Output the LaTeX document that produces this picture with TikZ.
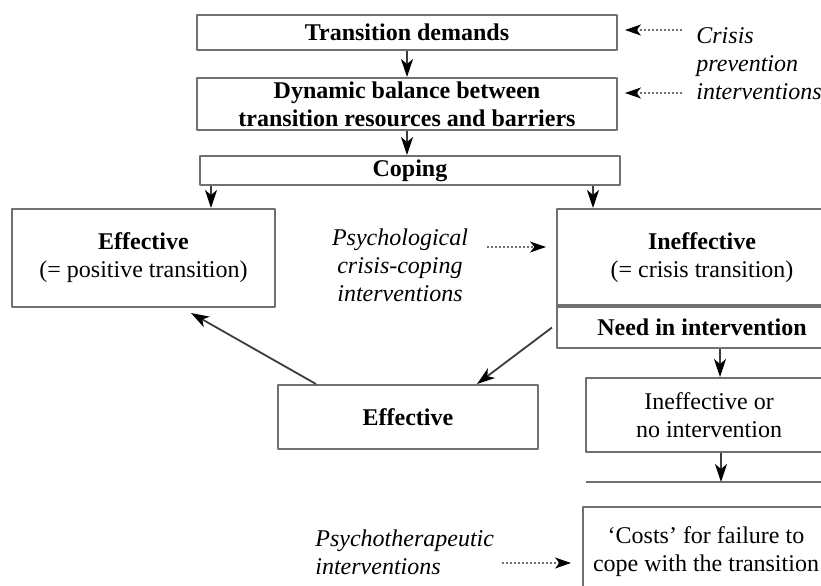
\documentclass[tikz,border=0pt]{standalone}
\usepackage{fontspec}
\setmainfont{Liberation Serif}
\usetikzlibrary{arrows.meta,calc}
\definecolor{boxgray}{RGB}{112,112,112}
\definecolor{linegray}{RGB}{60,60,60}

\begin{document}
\begin{tikzpicture}[x=0.5pt,y=-0.5pt,line join=round,
    box/.style={draw=boxgray,line width=1pt,inner sep=0pt,align=center,
      font=\fontsize{12}{14}\selectfont},
    arr/.style={draw=linegray,line width=0.9pt,-{Stealth[length=9pt,width=6pt,inset=2.5pt,black]}},
    dotarr/.style={draw=boxgray,line width=0.8pt,dash pattern=on 1pt off 1pt,
      -{Stealth[length=8pt,width=5.5pt,inset=2.2pt,black]}},
    note/.style={inner sep=0pt,font=\fontsize{12}{14}\selectfont\itshape}]
    \clip (0,0) rectangle (821,585);
    % main column
    \node[box,minimum width=210pt,minimum height=17.5pt] (demands) at (407,32.5) {\bfseries Transition demands};
    \node[box,minimum width=210pt,minimum height=26pt]   (balance) at (407,104)  {\bfseries Dynamic balance between\\\bfseries transition resources and barriers};
    \node[box,minimum width=210pt,minimum height=14.5pt] (coping)  at (410,170.5) {\bfseries Coping};
    \node[box,minimum width=131.5pt,minimum height=49pt] (effleft) at (143.5,258) {\bfseries Effective\\(= positive transition)};
    \node[box,minimum width=145pt,minimum height=49pt]   (ineff)   at (702,258)  {\bfseries Ineffective\\(= crisis transition)};
    \node[box,minimum width=145pt,minimum height=20.5pt] (need)    at (702,327.5) {\bfseries Need in intervention};
    \node[box,minimum width=130pt,minimum height=32pt]   (effmid)  at (408,417)  {\bfseries Effective};
    \node[box,minimum width=123pt,minimum height=37pt]   (inefor)  at (709,415)  {Ineffective or\\no intervention};
    \node[box,minimum width=123pt,minimum height=45pt]   (costs)   at (706,552)  {`Costs' for failure to\\cope with the transition};
    \draw[draw=boxgray,line width=1.8pt] (need.north west) -- (need.north east);
    \draw[draw=boxgray,line width=1pt] (586,482) -- (821,482);
    \coordinate (cut) at (721,482);
    % interventions
    \node[note,align=left,anchor=west] (crisis) at (696,64) {Crisis\\prevention\\interventions};
    \node[note,align=center] (psych) at (400,265) {Psychological\\crisis-coping\\interventions};
    \node[note,align=left,anchor=west] (therapy) at (315,552) {Psychotherapeutic\\interventions};
    \coordinate (c1) at (682,30);
    \coordinate (c2) at (682,93);
    \coordinate (p1) at (487,247);
    \coordinate (t1) at (502,563);
    % arrows
    \draw[arr] (demands) -- (balance);
    \draw[arr] (balance.south) -- (balance.south |- coping.north);
    \draw[arr] ([xshift=6pt]coping.south west) -- ([xshift=6pt]coping.south west |- effleft.north);
    \draw[arr] ([xshift=-14pt]coping.south east) -- ([xshift=-14pt]coping.south east |- ineff.north);
    \draw[arr] ([xshift=19.5pt]effmid.north west) -- ([xshift=90pt,yshift=-2.5pt]effleft.south west);
    \draw[arr] ([xshift=-2pt]need.west) -- ([xshift=100pt]effmid.north west);
    \draw[arr] ([xshift=9pt]need.south) -- ([xshift=9pt]need.south |- inefor.north);
    \draw[arr] ([xshift=6pt]inefor.south) -- (cut);
    \draw[dotarr,shorten >=3.5pt] (c1) -- (c1 -| demands.east);
    \draw[dotarr,shorten >=3.5pt] (c2) -- (c2 -| balance.east);
    \draw[dotarr,shorten >=5pt] (p1) -- (p1 -| ineff.west);
    \draw[dotarr,shorten >=5.5pt] (t1) -- (t1 -| costs.west);
\end{tikzpicture}
\end{document}
